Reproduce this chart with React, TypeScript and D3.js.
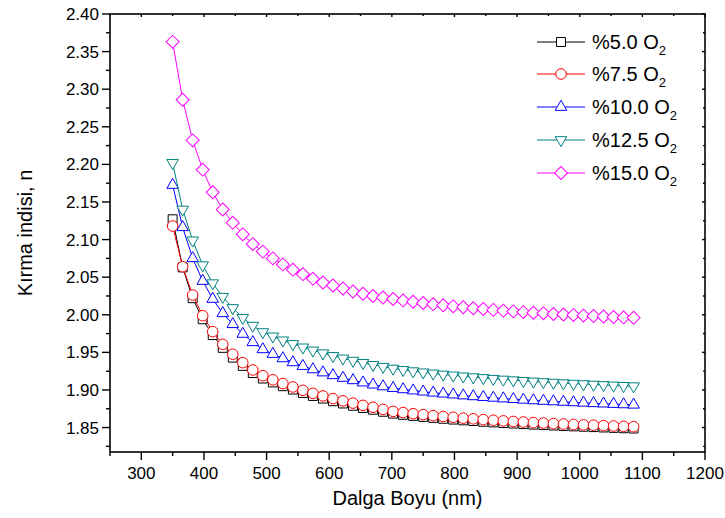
import React, { useEffect, useRef } from "react";
import * as d3 from "d3";

const wavelengths = [
  350, 366, 382, 398, 414, 430, 446, 462, 478, 494,
  510, 526, 542, 558, 574, 590, 606, 622, 638, 654,
  670, 686, 702, 718, 734, 750, 766, 782, 798, 814,
  830, 846, 862, 878, 894, 910, 926, 942, 958, 974,
  990, 1006, 1022, 1038, 1054, 1070, 1086,
];

const o2_5_0 = [
  2.127, 2.063, 2.022, 1.994, 1.973, 1.956, 1.943, 1.932, 1.9225, 1.9152,
  1.910, 1.905, 1.9005, 1.896, 1.892, 1.8885, 1.885, 1.882, 1.879, 1.876,
  1.8737, 1.871, 1.8685, 1.8669, 1.8655, 1.8642, 1.8629, 1.8617, 1.8606, 1.8596,
  1.8587, 1.8577, 1.8568, 1.856, 1.8553, 1.8546, 1.8539, 1.8533, 1.8527, 1.8521,
  1.8516, 1.8511, 1.8506, 1.8501, 1.8496, 1.8491, 1.8487,
];

const o2_7_5 = [
  2.118, 2.064, 2.0263, 1.9988, 1.9776, 1.9607, 1.9475, 1.9363, 1.9266, 1.919,
  1.9135, 1.9085, 1.904, 1.8995, 1.8955, 1.892, 1.8885, 1.8855, 1.8825, 1.8795,
  1.877, 1.8742, 1.8715, 1.8699, 1.8685, 1.8672, 1.8659, 1.8647, 1.8636, 1.8625,
  1.8616, 1.8606, 1.8597, 1.8589, 1.8581, 1.8574, 1.8566, 1.856, 1.8553, 1.8547,
  1.8541, 1.8536, 1.8531, 1.8526, 1.8521, 1.8516, 1.8512,
];

const o2_10_0 = [
  2.1726, 2.1164, 2.0751, 2.0449, 2.021, 2.002, 1.9874, 1.9745, 1.9634, 1.954,
  1.9478, 1.942, 1.9367, 1.9318, 1.9273, 1.9232, 1.9195, 1.916, 1.9128, 1.9098,
  1.907, 1.9047, 1.9025, 1.9008, 1.8992, 1.8977, 1.8963, 1.895, 1.8938, 1.8926,
  1.8915, 1.8905, 1.8895, 1.8886, 1.8877, 1.8869, 1.8861, 1.8854, 1.8847, 1.8841,
  1.8835, 1.8829, 1.8823, 1.8818, 1.8813, 1.8808, 1.8803,
];

const o2_12_5 = [
  2.202, 2.14, 2.099, 2.066, 2.042, 2.024, 2.009, 1.996, 1.9855, 1.977,
  1.9713, 1.966, 1.9612, 1.9567, 1.9526, 1.9488, 1.9453, 1.942, 1.939, 1.9361,
  1.9334, 1.9309, 1.9285, 1.9267, 1.925, 1.9235, 1.922, 1.9206, 1.9194, 1.9181,
  1.917, 1.9159, 1.9149, 1.9139, 1.913, 1.9121, 1.9113, 1.9105, 1.9098, 1.9091,
  1.9084, 1.9078, 1.9072, 1.9066, 1.906, 1.9055, 1.905,
];

const o2_15_0 = [
  2.363, 2.286, 2.232, 2.193, 2.163, 2.14, 2.1225, 2.107, 2.094, 2.084,
  2.075, 2.067, 2.06, 2.054, 2.048, 2.043, 2.039, 2.035, 2.031, 2.028,
  2.025, 2.023, 2.021, 2.0191, 2.0173, 2.0156, 2.0141, 2.0126, 2.0112, 2.01,
  2.0087, 2.0076, 2.0065, 2.0055, 2.0045, 2.0036, 2.0027, 2.0019, 2.0011, 2.0003,
  1.9996, 1.9989, 1.9983, 1.9977, 1.9971, 1.9965, 1.996,
];

const seriesLabels = ["%5.0 O", "%7.5 O", "%10.0 O", "%12.5 O", "%15.0 O"];
const seriesValues = [o2_5_0, o2_7_5, o2_10_0, o2_12_5, o2_15_0];
const seriesColors = ["#000000", "#ff0000", "#0000ff", "#008080", "#ff00ff"];
const seriesMarkers = ["square", "circle", "triangleUp", "triangleDown", "diamond"];

const xTicks = [300, 400, 500, 600, 700, 800, 900, 1000, 1100, 1200];
const yTicks = [1.85, 1.9, 1.95, 2.0, 2.05, 2.1, 2.15, 2.2, 2.25, 2.3, 2.35, 2.4];

const xTitle = "Dalga Boyu (nm)";
const yTitle = "Kırma indisi, n";

const FONT = "'Liberation Sans', Arial, Helvetica, sans-serif";

function markerPath(kind: string): string {
  switch (kind) {
    case "square":
      return d3.symbol().type(d3.symbolSquare).size(80)() as string;
    case "circle":
      return d3.symbol().type(d3.symbolCircle).size(88)() as string;
    case "triangleUp":
      return d3.symbol().type(d3.symbolTriangle).size(58)() as string;
    case "triangleDown":
      return d3.symbol().type(d3.symbolTriangle).size(58)() as string;
    case "diamond":
      return d3.symbol().type(d3.symbolSquare).size(84)() as string;
  }
  return "";
}
function markerRotate(kind: string): number {
  if (kind === "triangleDown") return 180;
  if (kind === "diamond") return 45;
  return 0;
}

export default function App() {
  const ref = useRef<SVGSVGElement>(null);

  useEffect(() => {
    const svg = d3.select(ref.current);
    svg.selectAll("*").remove();

    const L = 110, R = 705, T = 14, B = 452;
    const x = d3.scaleLinear().domain([250, 1200]).range([L, R]);
    const y = d3.scaleLinear().domain([1.8175, 2.4]).range([B, T]);

    svg.append("rect").attr("width", 725).attr("height", 518).attr("fill", "#fff");

    // series
    seriesValues.forEach((vals, si) => {
      const pts: [number, number][] = wavelengths.map((w, i) => [w, vals[i]]);
      const line = d3
        .line<[number, number]>()
        .x((d) => x(d[0]))
        .y((d) => y(d[1]));
      svg
        .append("path")
        .attr("d", line(pts) as string)
        .attr("fill", "none")
        .attr("stroke", seriesColors[si])
        .attr("stroke-width", 1);
      const mp = markerPath(seriesMarkers[si]);
      const rot = markerRotate(seriesMarkers[si]);
      svg
        .append("g")
        .selectAll("path")
        .data(pts)
        .join("path")
        .attr("d", mp)
        .attr("transform", (d) => `translate(${x(d[0])},${y(d[1])}) rotate(${rot})`)
        .attr("fill", "#fff")
        .attr("stroke", seriesColors[si])
        .attr("stroke-width", 1);
    });

    // frame
    svg
      .append("rect")
      .attr("x", L)
      .attr("y", T)
      .attr("width", R - L)
      .attr("height", B - T)
      .attr("fill", "none")
      .attr("stroke", "#000")
      .attr("stroke-width", 1.6);

    const ax = svg.append("g").attr("stroke", "#000").attr("stroke-width", 1.4);
    xTicks.forEach((t) => {
      ax.append("line").attr("x1", x(t)).attr("x2", x(t)).attr("y1", B).attr("y2", B + 8);
      ax.append("line").attr("x1", x(t)).attr("x2", x(t)).attr("y1", T).attr("y2", T + 3);
    });
    xTicks.forEach((t) => {
      const m = t - 50;
      ax.append("line").attr("x1", x(m)).attr("x2", x(m)).attr("y1", B).attr("y2", B + 4);
      ax.append("line").attr("x1", x(m)).attr("x2", x(m)).attr("y1", T).attr("y2", T + 2);
    });
    yTicks.forEach((t) => {
      ax.append("line").attr("x1", L - 8).attr("x2", L).attr("y1", y(t)).attr("y2", y(t));
      ax.append("line").attr("x1", R - 3).attr("x2", R).attr("y1", y(t)).attr("y2", y(t));
      const m = t - 0.025;
      ax.append("line").attr("x1", L - 4).attr("x2", L).attr("y1", y(m)).attr("y2", y(m));
      ax.append("line").attr("x1", R - 2).attr("x2", R).attr("y1", y(m)).attr("y2", y(m));
    });

    const fmtY = d3.format(".2f");
    svg
      .append("g")
      .selectAll("text")
      .data(xTicks)
      .join("text")
      .attr("x", (d) => x(d))
      .attr("y", B + 27)
      .attr("text-anchor", "middle")
      .attr("font-family", FONT)
      .attr("font-size", 17)
      .text((d) => String(d));
    svg
      .append("g")
      .selectAll("text")
      .data(yTicks)
      .join("text")
      .attr("x", L - 11)
      .attr("y", (d) => y(d) + 6)
      .attr("text-anchor", "end")
      .attr("font-family", FONT)
      .attr("font-size", 17)
      .text((d) => fmtY(d));

    svg
      .append("text")
      .attr("x", (L + R) / 2)
      .attr("y", 505)
      .attr("text-anchor", "middle")
      .attr("font-family", FONT)
      .attr("font-size", 20)
      .text(xTitle);
    svg
      .append("text")
      .attr("transform", `translate(32,${(T + B) / 2}) rotate(-90)`)
      .attr("text-anchor", "middle")
      .attr("font-family", FONT)
      .attr("font-size", 20)
      .text(yTitle);

    const legY = [42, 74, 107, 140, 173];
    seriesLabels.forEach((lab, si) => {
      const g = svg.append("g").attr("transform", `translate(0,${legY[si]})`);
      g.append("line")
        .attr("x1", 537)
        .attr("x2", 585)
        .attr("y1", 0)
        .attr("y2", 0)
        .attr("stroke", seriesColors[si])
        .attr("stroke-width", 1);
      g.append("path")
        .attr("d", markerPath(seriesMarkers[si]))
        .attr("transform", `translate(561,0) rotate(${markerRotate(seriesMarkers[si])})`)
        .attr("fill", "#fff")
        .attr("stroke", seriesColors[si])
        .attr("stroke-width", 1);
      const t = g
        .append("text")
        .attr("x", 592)
        .attr("y", 7)
        .attr("font-family", FONT)
        .attr("font-size", 20);
      t.append("tspan").text(lab);
      t.append("tspan").attr("font-size", 13).attr("dy", 6).text("2");
    });
  }, []);

  return (
    <svg
      ref={ref}
      width={725}
      height={518}
      style={{ position: "absolute", left: 0, top: 0, display: "block" }}
    />
  );
}
